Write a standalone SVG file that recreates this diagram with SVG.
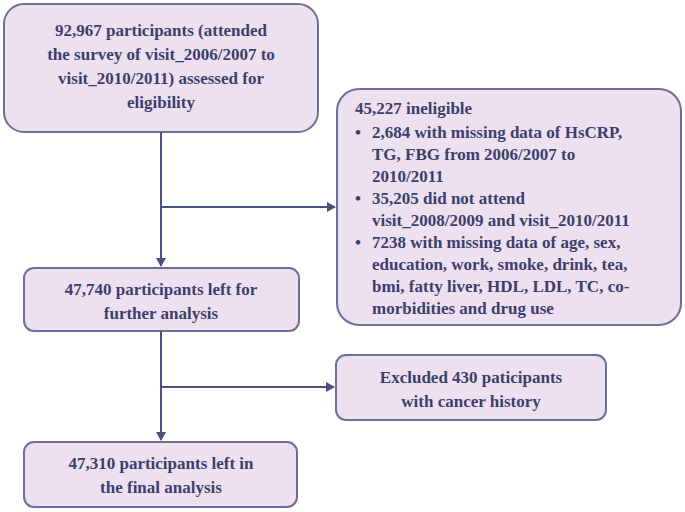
<svg xmlns="http://www.w3.org/2000/svg" width="685" height="512" viewBox="0 0 685 512">
<style>
.b{fill:#ede1ef;stroke:#6b7099;stroke-width:2}
.t{font-family:"Liberation Serif",serif;font-weight:bold;font-size:17px;fill:#3b3f6d}
.c{text-anchor:middle}
.l{stroke:#4a5283;stroke-width:2;fill:none}
</style>
<defs><marker id="a" markerWidth="10" markerHeight="10" refX="8" refY="5" orient="auto" markerUnits="userSpaceOnUse"><path d="M0,0 L9,5 L0,10 z" fill="#4a5283"/></marker></defs>
<g id="n1"><rect class="b" x="4" y="4" width="314" height="128" rx="20"/>
<text class="t c" x="161" y="36">92,967 participants (attended</text>
<text class="t c" x="161" y="60">the survey of visit_2006/2007 to</text>
<text class="t c" x="161" y="84">visit_2010/2011) assessed for</text>
<text class="t c" x="161" y="108">eligibility</text></g>
<g id="n2"><rect class="b" x="337" y="89" width="344" height="236" rx="22"/>
<text class="t" x="355" y="114">45,227 ineligible</text>
<text class="t" x="355" y="138">•</text><text class="t" x="372" y="138">2,684 with missing data of HsCRP,</text>
<text class="t" x="372" y="160">TG, FBG from 2006/2007 to</text>
<text class="t" x="372" y="182">2010/2011</text>
<text class="t" x="355" y="204">•</text><text class="t" x="372" y="204">35,205 did not attend</text>
<text class="t" x="372" y="226">visit_2008/2009 and visit_2010/2011</text>
<text class="t" x="355" y="248">•</text><text class="t" x="372" y="248">7238 with missing data of age, sex,</text>
<text class="t" x="372" y="270">education, work, smoke, drink, tea,</text>
<text class="t" x="372" y="292">bmi, fatty liver, HDL, LDL, TC, co-</text>
<text class="t" x="372" y="314">morbidities and drug use</text></g>
<g id="n3"><rect class="b" x="24" y="268" width="275" height="63" rx="10"/>
<text class="t c" x="161" y="295">47,740 participants left for</text>
<text class="t c" x="161" y="319">further analysis</text></g>
<g id="n4"><rect class="b" x="336" y="355" width="270" height="65" rx="10"/>
<text class="t c" x="471" y="383">Excluded 430 paticipants</text>
<text class="t c" x="471" y="407">with cancer history</text></g>
<g id="n5"><rect class="b" x="24" y="442" width="273" height="65" rx="10"/>
<text class="t c" x="161" y="469">47,310 participants left in</text>
<text class="t c" x="161" y="493">the final analysis</text></g>
<g id="connectors">
<path class="l" d="M161,132 V266" marker-end="url(#a)"/>
<path class="l" d="M161,207 H335" marker-end="url(#a)"/>
<path class="l" d="M161,331 V440" marker-end="url(#a)"/>
<path class="l" d="M161,387 H334" marker-end="url(#a)"/>
</g>
</svg>
